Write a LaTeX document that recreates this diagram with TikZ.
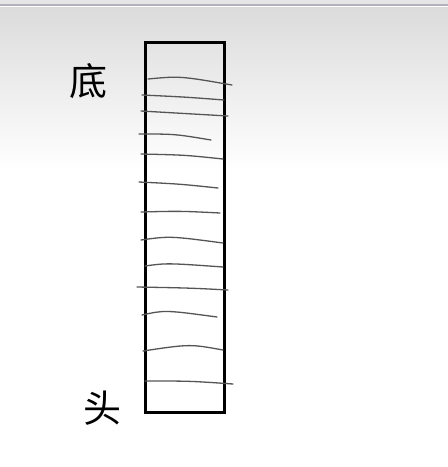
\documentclass[tikz,border=0pt]{standalone}
\usepackage{fontspec}
\newfontfamily\cjk{Noto Sans CJK SC}
\definecolor{topbar}{RGB}{178,178,190}
\definecolor{pencil}{RGB}{85,85,85}
\begin{document}
\begin{tikzpicture}[x=1pt,y=-1pt,
    frame/.style={line width=3pt},
    pencil/.style={draw=pencil, line width=1.3pt, line cap=round},
    hand/.style={font=\cjk\fontsize{38}{38}\selectfont, inner sep=0pt}]
            % Fix the page to the size of the screenshot
            \useasboundingbox (0,0) rectangle (448,467);
            \fill[white] (0,0) rectangle (448,467);

            % Grey fade at the top and the window bar
            \shade[top color=black!14, bottom color=white] (0,7) rectangle (448,170);
            \fill[black!10] (0,0) rectangle (448,4);
            \draw[topbar, line width=2pt] (0,5) -- (448,5);

            % Define the corners of the column
            \coordinate (A) at (145,42);
            \coordinate (B) at (224,42);
            \coordinate (C) at (224,412);
            \coordinate (D) at (145,412);

            % Draw the column
            \draw[frame] (A) -- (B) -- (C) -- (D) -- cycle;

            % Draw the layers across the column
            \foreach \xa/\ya/\xm/\ym/\xb/\yb in {
                148/79/180/76/232/85,
                142/95/185/97/224/100,
                141/111/185/113/228/116,
                139/134/175/134/211/140,
                141/154/185/155/223/159,
                139/182/180/184/218/188,
                141/212/180/211/220/213,
                141/240/170/236/223/243,
                145/266/167/263/223/267,
                137/287/190/288/228/290,
                142/315/165/310/217/317,
                143/351/190/344/223/350,
                145/381/190/381/233/384}
                \draw[pencil] (\xa,\ya) .. controls (\xm,\ym) .. (\xb,\yb);

            % Add the handwritten labels
            \node[hand] (bottom) at (88,81) {底};
            \node[hand] (head) at (103,408) {头};

        \end{tikzpicture}
\end{document}
